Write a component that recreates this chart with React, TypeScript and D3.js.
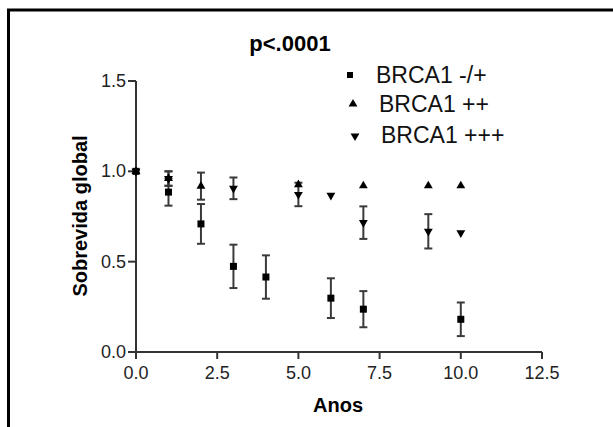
import React from 'react';
import * as d3 from 'd3';

// BRCA1 -/+ (squares)
const sqTimes = [0, 1, 2, 3, 4, 6, 7, 10];
const sqVals = [1.0, 0.885, 0.709, 0.474, 0.415, 0.298, 0.237, 0.181];
const sqErr = [0, 0.075, 0.11, 0.12, 0.12, 0.11, 0.1, 0.093];

// BRCA1 ++ (triangles up)
const upTimes = [0, 1, 2, 5, 7, 9, 10];
const upVals = [1.0, 0.96, 0.918, 0.926, 0.92, 0.92, 0.92];
const upErr = [0, 0.04, 0.075, 0, 0, 0, 0];

// BRCA1 +++ (triangles down)
const downTimes = [0, 1, 3, 5, 6, 7, 9, 10];
const downVals = [1.0, 0.96, 0.906, 0.872, 0.867, 0.716, 0.668, 0.66];
const downErr = [0, 0.04, 0.06, 0.065, 0, 0.09, 0.095, 0];

const xTicks = [0, 2.5, 5, 7.5, 10, 12.5];
const yTicks = [0, 0.5, 1.0, 1.5];
const legendLabels = ['BRCA1 -/+', 'BRCA1 ++', 'BRCA1 +++'];

const width = 613;
const height = 427;
const font = 'Liberation Sans, Arial, Helvetica, sans-serif';

export default function App() {
  const x = d3.scaleLinear().domain([0, 12.5]).range([136, 542]);
  const y = d3.scaleLinear().domain([0, 1.5]).range([352, 81]);

  const tri = d3.symbol().type(d3.symbolTriangle).size(34)() || '';
  const axisColor = '#333';

  const errBars = (times: number[], vals: number[], errs: number[], key: string) =>
    times.map((t, i) => {
      if (!errs[i]) return null;
      const cx = x(t);
      const y1 = y(vals[i] + errs[i]);
      const y2 = y(vals[i] - errs[i]);
      return (
        <g key={key + i} stroke="#3a3a3a" strokeWidth={2}>
          <line x1={cx} x2={cx} y1={y1} y2={y2} />
          <line x1={cx - 4} x2={cx + 4} y1={y1} y2={y1} />
          <line x1={cx - 4} x2={cx + 4} y1={y2} y2={y2} />
        </g>
      );
    });

  return (
    <svg width={width} height={height} style={{ position: 'absolute', left: 0, top: 0, background: '#fff' }} fontFamily={font}>
      {/* frame */}
      <path d={`M8.5,${height} V10 H${width}`} fill="none" stroke="#000" strokeWidth={3} />

      <text x={290} y={51} textAnchor="middle" fontWeight="bold" fontSize={22}>p&lt;.0001</text>

      {/* axes */}
      <g stroke={axisColor} strokeWidth={2}>
        <line x1={x(0)} x2={x(0)} y1={y(1.5)} y2={y(0)} />
        <line x1={x(0)} x2={x(12.5)} y1={y(0)} y2={y(0)} />
        {yTicks.map(t => (
          <line key={'yt' + t} x1={x(0) - 8} x2={x(0)} y1={y(t)} y2={y(t)} />
        ))}
        {xTicks.map(t => (
          <line key={'xt' + t} x1={x(t)} x2={x(t)} y1={y(0)} y2={y(0) + 7} />
        ))}
      </g>
      {yTicks.map(t => (
        <text key={'yl' + t} x={x(0) - 10} y={y(t) + 6} textAnchor="end" fontSize={18} fill="#222">
          {t.toFixed(1)}
        </text>
      ))}
      {xTicks.map(t => (
        <text key={'xl' + t} x={x(t)} y={379} textAnchor="middle" fontSize={18} fill="#222">
          {t.toFixed(1)}
        </text>
      ))}

      <text transform="translate(87,216) rotate(-90)" textAnchor="middle" fontWeight="bold" fontSize={20}>
        Sobrevida global
      </text>
      <text x={338} y={412} textAnchor="middle" fontWeight="bold" fontSize={20}>Anos</text>

      {/* error bars */}
      {errBars(upTimes, upVals, upErr, 'eu')}
      {errBars(downTimes, downVals, downErr, 'ed')}
      {errBars(sqTimes, sqVals, sqErr, 'es')}

      {/* markers */}
      {upTimes.map((t, i) => (
        <path key={'u' + i} d={tri} transform={`translate(${x(t)},${y(upVals[i])})`} fill="#000" />
      ))}
      {downTimes.map((t, i) => (
        <path key={'d' + i} d={tri} transform={`translate(${x(t)},${y(downVals[i])}) rotate(180)`} fill="#000" />
      ))}
      {sqTimes.map((t, i) => (
        <rect key={'s' + i} x={x(t) - 3.5} y={y(sqVals[i]) - 3.5} width={7} height={7} fill="#000" />
      ))}

      {/* legend */}
      <rect x={347} y={72} width={6} height={6} fill="#000" />
      <path d={tri} transform="translate(353,104)" fill="#000" />
      <path d={tri} transform="translate(355,136) rotate(180)" fill="#000" />
      <text x={376} y={83} fontSize={23} fill="#111">{legendLabels[0]}</text>
      <text x={379} y={112} fontSize={23} fill="#111">{legendLabels[1]}</text>
      <text x={381} y={143} fontSize={23} fill="#111">{legendLabels[2]}</text>
    </svg>
  );
}
